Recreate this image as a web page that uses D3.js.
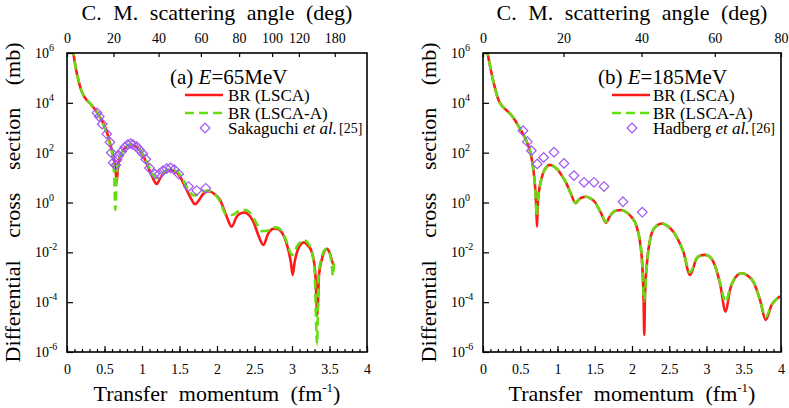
<!DOCTYPE html>
<html><head><meta charset="utf-8">
<script src="https://cdn.jsdelivr.net/npm/d3@7"></script>
<style>
body{margin:0;background:#fff}
svg{display:block}
</style>
</head><body>
<svg id="c" width="789" height="408"></svg>
<script>
// ---------- DATA ----------
const qTicks = [0, 0.5, 1, 1.5, 2, 2.5, 3, 3.5, 4];
const yExps = [6, 4, 2, 0, -2, -4, -6];
const anglesA = [0, 20, 40, 60, 80, 100, 120, 180];
const anglesB = [0, 20, 40, 60, 80];
const kA = 1.785;   // fm^-1, q = 2k sin(theta/2)
const kB = 3.111;

// [q (fm^-1), log10(dsigma/dOmega in mb)]
const lscaA = [[0.04,6.8],[0.084,6.0],[0.12,5.35],[0.151,4.92],[0.185,4.55],[0.218,4.31],[0.26,4.12],[0.307,3.98],[0.35,3.82],[0.396,3.64],[0.44,3.42],[0.484,3.18],[0.53,2.85],[0.573,2.38],[0.61,1.95],[0.64,1.5],[0.655,1.05],[0.662,0.8],[0.672,1.15],[0.69,1.6],[0.707,1.84],[0.75,2.1],[0.796,2.24],[0.84,2.31],[0.875,2.31],[0.92,2.24],[0.973,2.08],[1.02,1.85],[1.062,1.57],[1.12,1.15],[1.165,0.85],[1.196,0.74],[1.23,0.9],[1.284,1.17],[1.33,1.28],[1.373,1.3],[1.42,1.27],[1.484,1.14],[1.54,0.85],[1.596,0.5],[1.66,0.12],[1.707,-0.07],[1.75,0.05],[1.818,0.35],[1.87,0.44],[1.907,0.44],[1.97,0.33],[2.04,0.1],[2.13,-0.57],[2.196,-0.97],[2.262,-0.57],[2.31,-0.44],[2.373,-0.4],[2.43,-0.52],[2.484,-0.77],[2.55,-1.3],[2.618,-1.7],[2.684,-1.24],[2.74,-1.06],[2.787,-1.04],[2.84,-1.12],[2.884,-1.3],[2.951,-1.91],[2.985,-2.4],[3.009,-2.91],[3.035,-2.4],[3.062,-2.04],[3.11,-1.7],[3.16,-1.6],[3.21,-1.72],[3.262,-1.97],[3.31,-2.8],[3.338,-4.5],[3.36,-2.9],[3.396,-2.31],[3.43,-1.97],[3.462,-1.86],[3.5,-2.0],[3.53,-2.3],[3.551,-2.5]];
const lscaAA = [[0.04,6.8],[0.084,6.0],[0.12,5.35],[0.151,4.92],[0.185,4.55],[0.218,4.31],[0.26,4.12],[0.307,3.98],[0.35,3.82],[0.396,3.62],[0.44,3.4],[0.484,3.12],[0.53,2.78],[0.573,2.3],[0.61,1.8],[0.63,1.0],[0.645,-0.3],[0.66,0.9],[0.68,1.55],[0.707,1.84],[0.75,2.12],[0.796,2.26],[0.84,2.32],[0.875,2.32],[0.92,2.26],[0.973,2.12],[1.02,1.9],[1.062,1.65],[1.12,1.25],[1.19,0.98],[1.24,1.05],[1.284,1.2],[1.33,1.3],[1.373,1.32],[1.42,1.3],[1.484,1.2],[1.54,0.95],[1.6,0.62],[1.69,0.28],[1.75,0.33],[1.818,0.44],[1.87,0.48],[1.907,0.46],[1.97,0.33],[2.04,0.05],[2.12,-0.48],[2.2,-0.5],[2.3,-0.33],[2.38,-0.3],[2.45,-0.45],[2.52,-0.8],[2.6,-1.15],[2.68,-1.12],[2.74,-1.02],[2.79,-1.0],[2.85,-1.1],[2.92,-1.5],[3.0,-2.1],[3.07,-1.75],[3.15,-1.5],[3.21,-1.62],[3.262,-1.95],[3.3,-2.7],[3.335,-5.7],[3.355,-2.9],[3.396,-2.2],[3.43,-1.92],[3.47,-1.85],[3.5,-2.0],[3.53,-2.5],[3.545,-2.95],[3.56,-2.4]];
const sakaguchi = [[0.40,3.6],[0.43,3.45],[0.47,3.15],[0.53,2.75],[0.573,2.42],[0.59,2.0],[0.615,1.6],[0.65,1.5],[0.67,1.72],[0.69,1.88],[0.73,2.05],[0.77,2.22],[0.81,2.33],[0.85,2.36],[0.88,2.32],[0.93,2.24],[0.97,2.1],[1.01,1.96],[1.05,1.74],[1.1,1.38],[1.17,1.14],[1.23,1.15],[1.28,1.28],[1.33,1.36],[1.38,1.39],[1.43,1.32],[1.49,1.14],[1.62,0.64],[1.73,0.48],[1.85,0.57]];

const lscaB = [[0.03,6.8],[0.067,5.92],[0.1,5.4],[0.134,4.92],[0.17,4.5],[0.2,4.18],[0.246,3.91],[0.31,3.72],[0.38,3.51],[0.44,3.25],[0.492,2.98],[0.55,2.68],[0.604,2.31],[0.645,1.9],[0.671,1.44],[0.69,0.95],[0.702,0.5],[0.715,-0.2],[0.725,-0.97],[0.735,-0.1],[0.745,0.3],[0.761,0.62],[0.805,1.17],[0.85,1.42],[0.895,1.51],[0.95,1.45],[1.007,1.3],[1.06,1.07],[1.119,0.77],[1.18,0.35],[1.244,-0.03],[1.28,0.1],[1.32,0.19],[1.387,0.23],[1.44,0.17],[1.499,0.03],[1.58,-0.4],[1.655,-0.81],[1.69,-0.62],[1.722,-0.47],[1.79,-0.32],[1.857,-0.3],[1.92,-0.38],[1.99,-0.57],[2.063,-0.97],[2.13,-2.17],[2.155,-3.8],[2.165,-5.32],[2.175,-3.6],[2.197,-2.57],[2.264,-1.24],[2.33,-0.93],[2.398,-0.84],[2.47,-0.93],[2.555,-1.17],[2.62,-1.5],[2.689,-1.97],[2.779,-2.91],[2.868,-2.24],[2.92,-2.13],[2.98,-2.1],[3.04,-2.17],[3.091,-2.37],[3.181,-3.24],[3.257,-4.38],[3.315,-3.51],[3.39,-3.0],[3.472,-2.84],[3.55,-2.93],[3.628,-3.18],[3.718,-3.91],[3.794,-4.71],[3.875,-4.11],[3.94,-3.88],[3.987,-3.76]];
const lscaBA = [[0.03,6.8],[0.067,5.92],[0.1,5.4],[0.134,4.92],[0.17,4.5],[0.2,4.18],[0.246,3.91],[0.31,3.72],[0.38,3.51],[0.44,3.25],[0.492,2.98],[0.55,2.68],[0.604,2.31],[0.645,1.9],[0.671,1.44],[0.69,0.95],[0.705,0.3],[0.72,-0.55],[0.735,0.0],[0.745,0.3],[0.761,0.62],[0.805,1.17],[0.85,1.42],[0.895,1.51],[0.95,1.45],[1.007,1.3],[1.06,1.07],[1.119,0.77],[1.18,0.35],[1.244,-0.02],[1.28,0.1],[1.32,0.19],[1.387,0.23],[1.44,0.17],[1.499,0.03],[1.58,-0.4],[1.655,-0.78],[1.69,-0.62],[1.722,-0.47],[1.79,-0.32],[1.857,-0.3],[1.92,-0.38],[1.99,-0.57],[2.063,-0.97],[2.13,-2.1],[2.165,-3.95],[2.2,-2.5],[2.264,-1.24],[2.33,-0.93],[2.398,-0.84],[2.47,-0.93],[2.555,-1.17],[2.62,-1.5],[2.689,-1.97],[2.779,-2.8],[2.868,-2.24],[2.92,-2.13],[2.98,-2.1],[3.04,-2.17],[3.091,-2.37],[3.181,-3.2],[3.257,-4.0],[3.315,-3.45],[3.39,-3.0],[3.472,-2.84],[3.55,-2.93],[3.628,-3.18],[3.718,-3.9],[3.794,-4.6],[3.875,-4.1],[3.94,-3.88],[3.987,-3.76]];
const hadberg = [[0.537,2.88],[0.595,2.44],[0.649,2.08],[0.729,1.55],[0.814,1.81],[0.953,2.02],[1.087,1.57],[1.221,1.08],[1.356,0.81],[1.49,0.81],[1.624,0.64],[1.879,0.03],[2.138,-0.39]];

// ---------- LAYOUT ----------
const svg = d3.select("#c");
const top0 = 53, bot0 = 352;
const RED = "#ff1a1a", GREEN = "#66dd11", PURPLE = "#a055f5";
const FONT = "'Liberation Serif', 'Times New Roman', serif";

const panels = [
  {id:"a", left:67, right:367, k:kA, angles:anglesA, red:lscaA, green:lscaAA, exp:sakaguchi,
   title:["(a) ","E","=65MeV"], expName:["Sakaguchi ","et al.","[25]"],
   lx:170, lineX:185, textX:228},
  {id:"b", left:483, right:781, k:kB, angles:anglesB, red:lscaB, green:lscaBA, exp:hadberg,
   title:["(b) ","E","=185MeV"], expName:["Hadberg ","et al.","[26]"],
   lx:598, lineX:612, textX:653}
];

function txt(sel){ return sel.append("text").style("font-family",FONT).attr("fill","#000"); }

panels.forEach(p => {
  const x = d3.scaleLinear().domain([0,4]).range([p.left, p.right]);
  const y = d3.scaleLog().domain([1e-6,1e6]).range([bot0, top0]);
  const g = svg.append("g");

  g.append("clipPath").attr("id","clip"+p.id)
    .append("rect").attr("x",p.left).attr("y",top0).attr("width",p.right-p.left).attr("height",bot0-top0);

  const line = d3.line().x(d=>x(d[0])).y(d=>y(Math.pow(10,d[1]))).curve(d3.curveMonotoneX);
  const plot = g.append("g").attr("clip-path",`url(#clip${p.id})`);
  plot.append("path").attr("d",line(p.red)).attr("fill","none").attr("stroke",RED).attr("stroke-width",2.6);
  plot.append("path").attr("d",line(p.green)).attr("fill","none").attr("stroke",GREEN).attr("stroke-width",2.6)
    .attr("stroke-dasharray","9,5");

  const sym = d3.symbol().type(d3.symbolSquare).size(46);
  plot.selectAll("path.pt").data(p.exp).join("path").attr("class","pt")
    .attr("d",sym())
    .attr("transform",d=>`translate(${x(d[0])},${y(Math.pow(10,d[1]))}) rotate(45)`)
    .attr("fill","none").attr("stroke",PURPLE).attr("stroke-width",1.2);

  // bottom axis
  const bAx = g.append("g").attr("transform",`translate(0,${bot0})`)
    .call(d3.axisBottom(x).tickValues(qTicks).tickSize(-6).tickPadding(12).tickFormat(d=>String(d)));
  const bMinor = g.append("g").attr("transform",`translate(0,${bot0})`)
    .call(d3.axisBottom(x).tickValues(d3.range(0,41).map(i=>i/10)).tickSize(-3).tickFormat(""));
  // left axis
  const lAx = g.append("g").attr("transform",`translate(${p.left},0)`)
    .call(d3.axisLeft(y).tickValues(yExps.map(e=>Math.pow(10,e))).tickSize(-6).tickFormat(""));
  // top axis (angles)
  const angToQ = a => 2*p.k*Math.sin(a*Math.PI/360);
  const tAx = g.append("g").attr("transform",`translate(0,${top0})`)
    .call(d3.axisTop(x).tickValues(p.angles.map(angToQ)).tickSize(-4).tickPadding(10)
      .tickFormat((d,i)=>String(p.angles[i])));
  [bAx,bMinor,lAx,tAx].forEach(a=>{
    a.select(".domain").remove();
    a.selectAll("line").attr("stroke","#000").attr("stroke-width",1.2);
    a.selectAll("text").style("font-family",FONT).attr("font-size",14).attr("fill","#000");
  });

  // y tick labels
  yExps.forEach(e=>{
    const t = txt(g).attr("x",p.left-32).attr("y",y(Math.pow(10,e))+5).attr("font-size",14);
    t.append("tspan").text("10");
    t.append("tspan").attr("font-size",10).attr("dy",-7).text(String(e));
  });

  // frame
  g.append("rect").attr("x",p.left).attr("y",top0).attr("width",p.right-p.left).attr("height",bot0-top0)
    .attr("fill","none").attr("stroke","#000").attr("stroke-width",1.6);

  // axis titles
  const cx = (p.left+p.right)/2;
  const xt = txt(g).attr("x",cx).attr("y",401).attr("text-anchor","middle")
    .attr("font-size",22).style("word-spacing","6px");
  xt.append("tspan").text("Transfer momentum (fm");
  xt.append("tspan").attr("font-size",13).attr("dy",-9).text("-1");
  xt.append("tspan").attr("dy",9).text(")");

  txt(g).attr("x",cx).attr("y",20).attr("text-anchor","middle")
    .attr("font-size",22).style("word-spacing","6px").text("C. M. scattering angle (deg)");

  txt(g).attr("transform",`translate(${p.left-47},${(top0+bot0)/2}) rotate(-90)`)
    .attr("text-anchor","middle").attr("font-size",22).style("word-spacing","17px")
    .text("Differential cross section (mb)");

  // legend
  const tt = txt(g).attr("x",p.lx).attr("y",84).attr("font-size",21);
  tt.append("tspan").text(p.title[0]);
  tt.append("tspan").attr("font-style","italic").text(p.title[1]);
  tt.append("tspan").text(p.title[2]);

  g.append("line").attr("x1",p.lineX).attr("x2",p.lineX+38).attr("y1",95).attr("y2",95)
    .attr("stroke",RED).attr("stroke-width",2.6);
  txt(g).attr("x",p.textX).attr("y",101).attr("font-size",17).text("BR (LSCA)");
  g.append("line").attr("x1",p.lineX).attr("x2",p.lineX+38).attr("y1",113).attr("y2",113)
    .attr("stroke",GREEN).attr("stroke-width",2.6).attr("stroke-dasharray","9,5");
  txt(g).attr("x",p.textX).attr("y",119).attr("font-size",17).text("BR (LSCA-A)");
  g.append("path").attr("d",sym()).attr("transform",`translate(${p.lineX+20},128) rotate(45)`)
    .attr("fill","none").attr("stroke",PURPLE).attr("stroke-width",1.2);
  const et = txt(g).attr("x",p.textX).attr("y",134).attr("font-size",17);
  et.append("tspan").text(p.expName[0]);
  et.append("tspan").attr("font-style","italic").text(p.expName[1]);
  et.append("tspan").attr("font-size",14).attr("dx",2).attr("dy",-1).text(p.expName[2]);
});
</script>
</body></html>
